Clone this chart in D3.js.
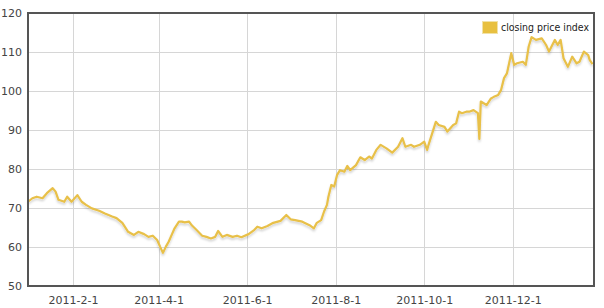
<!DOCTYPE html>
<html>
<head>
<meta charset="utf-8">
<script src="https://cdn.jsdelivr.net/npm/d3@7"></script>
<style>
  body { margin: 0; background: #fff; }
  svg { display: block; font-family: "DejaVu Sans", Verdana, sans-serif; }
</style>
</head>
<body>
<svg id="chart" width="604" height="308"></svg>
<script>
const priceDates = [
  "2011-01-01", "2011-01-04", "2011-01-07", "2011-01-11", "2011-01-14", "2011-01-18",
  "2011-01-20", "2011-01-22", "2011-01-26", "2011-01-28", "2011-01-31", "2011-02-04",
  "2011-02-07", "2011-02-10", "2011-02-14", "2011-02-19", "2011-02-23", "2011-02-28",
  "2011-03-03", "2011-03-07", "2011-03-11", "2011-03-15", "2011-03-18", "2011-03-22",
  "2011-03-25", "2011-03-28", "2011-03-31", "2011-04-02", "2011-04-04", "2011-04-06",
  "2011-04-08", "2011-04-10", "2011-04-12", "2011-04-15", "2011-04-17", "2011-04-19",
  "2011-04-22", "2011-04-24", "2011-04-27", "2011-05-01", "2011-05-04", "2011-05-07",
  "2011-05-10", "2011-05-12", "2011-05-15", "2011-05-18", "2011-05-22", "2011-05-25",
  "2011-05-28", "2011-06-02", "2011-06-06", "2011-06-08", "2011-06-11", "2011-06-15",
  "2011-06-19", "2011-06-24", "2011-06-28", "2011-07-01", "2011-07-04", "2011-07-09",
  "2011-07-14", "2011-07-17", "2011-07-19", "2011-07-22", "2011-07-24", "2011-07-26",
  "2011-07-27", "2011-07-29", "2011-07-31", "2011-08-02", "2011-08-04", "2011-08-07",
  "2011-08-09", "2011-08-11", "2011-08-15", "2011-08-18", "2011-08-21", "2011-08-24",
  "2011-08-26", "2011-08-29", "2011-09-01", "2011-09-05", "2011-09-09", "2011-09-13",
  "2011-09-16", "2011-09-18", "2011-09-22", "2011-09-24", "2011-09-28", "2011-10-01",
  "2011-10-03", "2011-10-04", "2011-10-09", "2011-10-11", "2011-10-15", "2011-10-17",
  "2011-10-21", "2011-10-23", "2011-10-25", "2011-10-27", "2011-10-30", "2011-11-01",
  "2011-11-04", "2011-11-07", "2011-11-08", "2011-11-09", "2011-11-13", "2011-11-16",
  "2011-11-18", "2011-11-21", "2011-11-23", "2011-11-25", "2011-11-27", "2011-11-30",
  "2011-12-02", "2011-12-04", "2011-12-08", "2011-12-10", "2011-12-12", "2011-12-14",
  "2011-12-17", "2011-12-21", "2011-12-24", "2011-12-26", "2011-12-30", "2012-01-01",
  "2012-01-03", "2012-01-05", "2012-01-08", "2012-01-11", "2012-01-14", "2012-01-16",
  "2012-01-19", "2012-01-22", "2012-01-23", "2012-01-25"
];
const priceValues = [
  71.6, 72.5, 72.9, 72.5, 73.8, 75.1,
  74.2, 72.1, 71.6, 72.9, 71.6, 73.3,
  71.6, 70.8, 69.9, 69.3, 68.6, 67.8,
  67.4, 66.2, 63.9, 63.1, 63.9, 63.3,
  62.6, 62.9, 61.8, 60.1, 58.5, 60.1,
  61.4, 63.1, 64.8, 66.5, 66.5, 66.3,
  66.5, 65.5, 64.4, 62.9, 62.6, 62.2,
  62.6, 64.1, 62.6, 63.1, 62.6, 62.9,
  62.5, 63.3, 64.4, 65.2, 64.8, 65.4,
  66.2, 66.7, 68.2, 67.1, 66.9, 66.5,
  65.6, 64.8, 66.2, 66.9, 69.1, 70.8,
  72.9, 75.9, 75.5, 78.5, 79.7, 79.3,
  80.8, 79.7, 81.0, 83.0, 82.3, 83.2,
  82.7, 84.9, 86.2, 85.3, 84.2, 85.7,
  87.9, 85.7, 86.2, 85.7, 86.2, 87.0,
  84.9, 86.2, 92.1, 91.3, 90.8, 89.6,
  91.3, 91.7, 94.7, 94.3, 94.7, 94.7,
  95.1, 94.3, 87.7, 97.3, 96.4, 98.1,
  98.5, 99.0, 100.3, 103.3, 104.5, 109.7,
  106.7, 107.1, 107.5, 106.7, 111.4, 113.8,
  113.1, 113.5, 111.8, 110.1, 113.1, 111.8,
  113.1, 108.4, 106.2, 108.8, 107.1, 107.5,
  110.1, 109.2, 108.0, 106.9
];
const xTickDates = ["2011-02-01", "2011-04-01", "2011-06-01", "2011-08-01", "2011-10-01", "2011-12-01"];
const xTickLabels = ["2011-2-1", "2011-4-1", "2011-6-1", "2011-8-1", "2011-10-1", "2011-12-1"];
const yTicks = [50, 60, 70, 80, 90, 100, 110, 120];
const seriesName = "closing price index";

const parseDate = d3.timeParse("%Y-%m-%d");
const margin = { left: 28, top: 13, right: 10, bottom: 22 };
const width = 604;
const height = 308;

const svg = d3.select("#chart");

svg.append("defs")
  .append("filter")
  .attr("id", "shadow")
  .attr("x", "-5%").attr("y", "-10%")
  .attr("width", "110%").attr("height", "130%")
  .append("feDropShadow")
  .attr("dx", 0)
  .attr("dy", 2)
  .attr("stdDeviation", 1.2)
  .attr("flood-color", "#000")
  .attr("flood-opacity", 0.18);

const x = d3.scaleTime()
  .domain([parseDate("2011-01-01"), parseDate("2012-01-26")])
  .range([margin.left, width - margin.right]);

const y = d3.scaleLinear()
  .domain([50, 120])
  .range([height - margin.bottom, margin.top]);

const data = priceDates.map((d, i) => ({ date: parseDate(d), value: priceValues[i] }));
const tickDates = xTickDates.map(parseDate);

// grid
svg.append("g")
  .selectAll("line")
  .data(yTicks.slice(1, -1))
  .join("line")
  .attr("x1", margin.left).attr("x2", width - margin.right)
  .attr("y1", (d) => y(d)).attr("y2", (d) => y(d))
  .attr("stroke", "#d6d6d6").attr("stroke-width", 1)
  .attr("shape-rendering", "crispEdges");

svg.append("g")
  .selectAll("line")
  .data(tickDates)
  .join("line")
  .attr("x1", (d) => Math.round(x(d)) + 0.5).attr("x2", (d) => Math.round(x(d)) + 0.5)
  .attr("y1", margin.top).attr("y2", height - margin.bottom)
  .attr("stroke", "#d6d6d6").attr("stroke-width", 1);

// axes labels
const xAxis = d3.axisBottom(x)
  .tickValues(tickDates)
  .tickFormat((d, i) => xTickLabels[i])
  .tickSize(0)
  .tickPadding(10);

const yAxis = d3.axisLeft(y)
  .tickValues(yTicks)
  .tickSize(0)
  .tickPadding(6);

const gx = svg.append("g")
  .attr("transform", `translate(0,${height - margin.bottom})`)
  .call(xAxis);
const gy = svg.append("g")
  .attr("transform", `translate(${margin.left},0)`)
  .call(yAxis);

[gx, gy].forEach((g) => {
  g.select(".domain").remove();
  g.selectAll("text")
    .attr("fill", "#444")
    .style("font-size", "11px")
    .style("font-family", "'DejaVu Sans', Verdana, sans-serif");
});

// line
const line = d3.line()
  .x((d) => x(d.date))
  .y((d) => y(d.value))
  .curve(d3.curveLinear);

svg.append("path")
  .datum(data)
  .attr("fill", "none")
  .attr("stroke", "#e8c048")
  .attr("stroke-width", 2.2)
  .attr("stroke-linejoin", "round")
  .attr("filter", "url(#shadow)")
  .attr("d", line);

// frame
svg.append("rect")
  .attr("x", margin.left)
  .attr("y", margin.top)
  .attr("width", width - margin.right - margin.left)
  .attr("height", height - margin.bottom - margin.top)
  .attr("fill", "none")
  .attr("stroke", "#555")
  .attr("stroke-width", 2);

// legend
const legend = svg.append("g").attr("transform", "translate(482,21)");
legend.append("rect")
  .attr("x", 0.5).attr("y", 0.5)
  .attr("width", 15).attr("height", 12)
  .attr("fill", "#e8c040")
  .attr("stroke", "#f1e2a8")
  .attr("stroke-width", 1);
legend.append("text")
  .attr("x", 19)
  .attr("y", 10)
  .attr("textLength", 88)
  .attr("lengthAdjust", "spacingAndGlyphs")
  .attr("fill", "#222")
  .style("font-size", "10px")
  .text(seriesName);
</script>
</body>
</html>
